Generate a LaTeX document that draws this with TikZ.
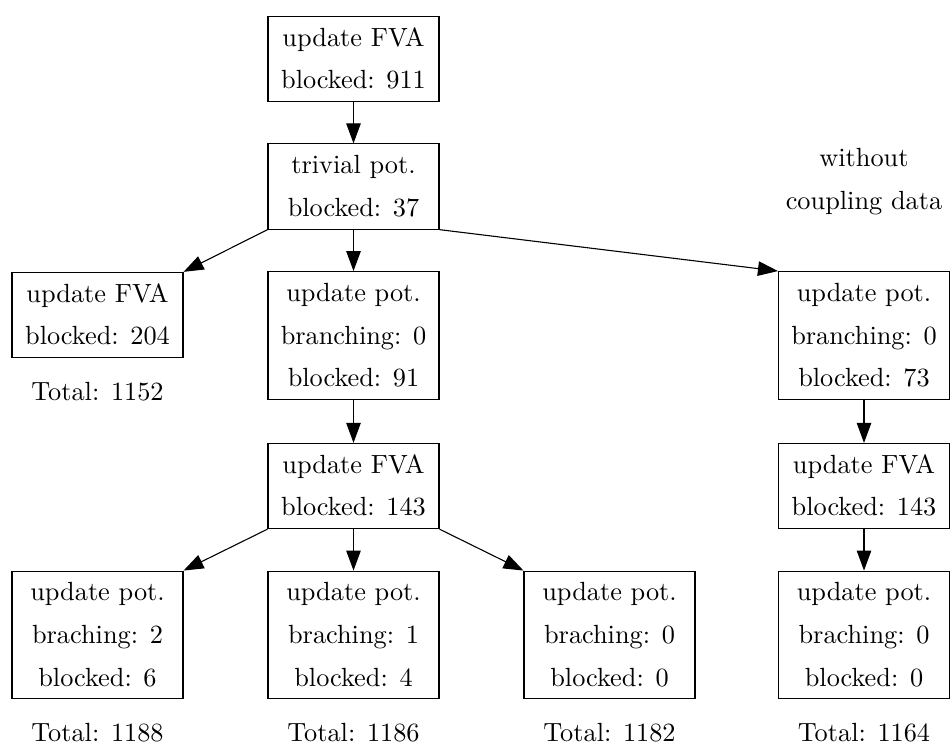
\documentclass[tikz,border=0pt]{standalone}
\usetikzlibrary{arrows.meta}
\usepackage{graphicx}
\newcommand\boxtext[1]{\scalebox{2.63}{\fontsize{10}{16.2}\selectfont\begin{tabular}{@{}c@{}}#1\end{tabular}}}
\newcommand\plaintext[1]{\scalebox{2.63}{\fontsize{10}{16.2}\selectfont #1}}
\tikzset{
  stepbox/.style={draw, line width=1.1pt, inner xsep=0pt, inner ysep=0pt, minimum width=171pt},
  conn/.style={line width=1.1pt, -{Triangle[length=20pt,width=14.5pt]}},
  totaltext/.style={inner sep=0pt, anchor=base},
  notetext/.style={inner sep=0pt}
}
\begin{document}
\begin{tikzpicture}[x=1pt,y=-1pt]
\useasboundingbox (0,0) rectangle (950,745);
% top column
\node[stepbox] (n1) at (353.5,59) {\boxtext{update FVA\\blocked: 911}};
\node[stepbox] (n2) at (353.5,186.5) {\boxtext{trivial pot.\\blocked: 37}};
% third row
\node[stepbox] (n3) at (97.5,315) {\boxtext{update FVA\\blocked: 204}};
\node[stepbox] (n4) at (353.5,335.5) {\boxtext{update pot.\\branching: 0\\blocked: 91}};
\node[stepbox] (n5) at (864,335.5) {\boxtext{update pot.\\branching: 0\\blocked: 73}};
% fourth row
\node[stepbox] (n6) at (353.5,486) {\boxtext{update FVA\\blocked: 143}};
\node[stepbox] (n7) at (864,486) {\boxtext{update FVA\\blocked: 143}};
% bottom row
\node[stepbox] (n8) at (97.5,635) {\boxtext{update pot.\\braching: 2\\blocked: 6}};
\node[stepbox] (n9) at (353.5,635) {\boxtext{update pot.\\braching: 1\\blocked: 4}};
\node[stepbox] (n10) at (609.5,635) {\boxtext{update pot.\\braching: 0\\blocked: 0}};
\node[stepbox] (n11) at (864,635) {\boxtext{update pot.\\braching: 0\\blocked: 0}};
% labels
\node[notetext] (note) at (864,179.5) {\boxtext{without\\coupling data}};
\node[totaltext] (t3) at (97.5,400.5) {\plaintext{Total: 1152}};
\node[totaltext] (t8) at (97.5,741) {\plaintext{Total: 1188}};
\node[totaltext] (t9) at (353.5,741) {\plaintext{Total: 1186}};
\node[totaltext] (t10) at (609.5,741) {\plaintext{Total: 1182}};
\node[totaltext] (t11) at (864,741) {\plaintext{Total: 1164}};
% connectors
\draw[conn] (n1.south) -- (n2.north);
\draw[conn] (n2.south west) -- (n3.north east);
\draw[conn] (n2.south) -- (n4.north);
\draw[conn] (n2.south east) -- (n5.north west);
\draw[conn] (n4.south) -- (n6.north);
\draw[conn] (n5.south) -- (n7.north);
\draw[conn] (n6.south west) -- (n8.north east);
\draw[conn] (n6.south) -- (n9.north);
\draw[conn] (n6.south east) -- (n10.north west);
\draw[conn] (n7.south) -- (n11.north);
\end{tikzpicture}
\end{document}
